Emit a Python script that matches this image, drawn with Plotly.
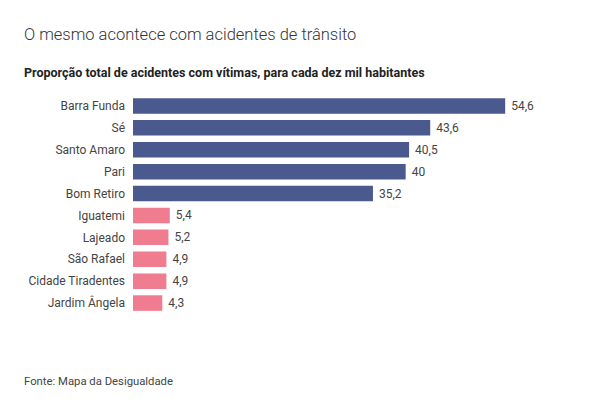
import plotly.graph_objects as go

# data
bairros = ["Barra Funda", "Sé", "Santo Amaro", "Pari", "Bom Retiro",
           "Iguatemi", "Lajeado", "São Rafael", "Cidade Tiradentes", "Jardim Ângela"]
acidentes = [54.6, 43.6, 40.5, 40, 35.2, 5.4, 5.2, 4.9, 4.9, 4.3]
grupo = ["alto"] * 5 + ["baixo"] * 5

cores = {"alto": "#4a5a8e", "baixo": "#ef7d8f"}
rotulos = [" " + f"{v:g}".replace(".", ",") for v in acidentes]

fig = go.Figure()
fig.add_trace(go.Bar(
    x=acidentes,
    y=bairros,
    orientation="h",
    marker=dict(color=[cores[g] for g in grupo], line=dict(width=0)),
    width=0.71,
    text=rotulos,
    textposition="outside",
    textfont=dict(size=12, color="#444444"),
    cliponaxis=False,
    hoverinfo="skip",
))

# plot area (screen px): x 133..542, y 94.5..314
def px_x(p):
    return (p - 133) / 409

def px_y(p):
    return (314 - p) / 219.5

fig.update_layout(
    width=615,
    height=406,
    margin=dict(l=125, r=81, t=86.5, b=100),
    paper_bgcolor="white",
    plot_bgcolor="white",
    font=dict(family="Roboto, sans-serif", color="#333333"),
    showlegend=False,
    xaxis=dict(range=[0, 60], visible=False),
    yaxis=dict(autorange="reversed", showgrid=False, zeroline=False,
               ticks="", tickfont=dict(size=12, color="#444444"), ticklabelstandoff=7),
    annotations=[
        dict(text="O mesmo acontece com acidentes de trânsito", x=px_x(22), y=px_y(34),
             xref="paper", yref="paper", xanchor="left", yanchor="middle", showarrow=False,
             font=dict(size=16.5, color="#333333", weight=300)),
        dict(text="<b>Proporção total de acidentes com vítimas, para cada dez mil habitantes</b>",
             x=px_x(22), y=px_y(72), xref="paper", yref="paper", xanchor="left",
             yanchor="middle", showarrow=False, font=dict(size=12.5, color="#222222")),
        dict(text="Fonte: Mapa da Desigualdade", x=px_x(22), y=px_y(382),
             xref="paper", yref="paper", xanchor="left", yanchor="middle", showarrow=False,
             font=dict(size=11.3, color="#444444")),
    ],
)

fig.write_html("out.html")
